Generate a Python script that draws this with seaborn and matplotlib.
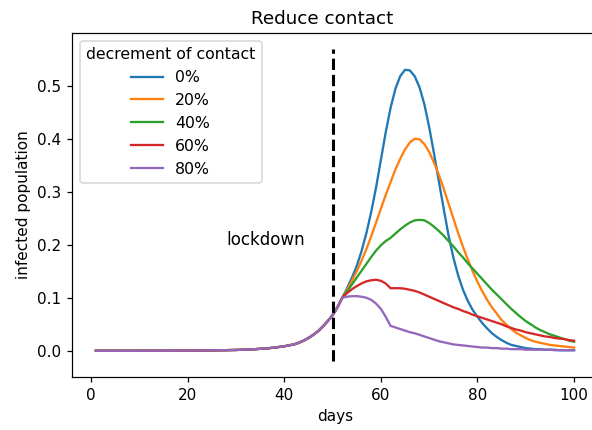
import numpy as np
import pandas as pd
import matplotlib
matplotlib.use("Agg")
import matplotlib.pyplot as plt
import seaborn as sns

# ---- data ----
early_days = [1, 5, 10, 15, 20, 25, 30, 33, 36, 38, 40, 42, 43, 44, 45, 46, 47, 48, 49, 50, 51]
early_vals = [0.00003, 0.00005, 0.0001, 0.00015, 0.0003, 0.0007, 0.0015, 0.0025, 0.0042, 0.006,
              0.0085, 0.012, 0.015, 0.019, 0.024, 0.030, 0.037, 0.046, 0.056, 0.067, 0.082]
late_days = list(range(52, 101))

blue_late = [0.100, 0.118, 0.138, 0.160, 0.188, 0.222, 0.262, 0.308, 0.360, 0.412,
             0.458, 0.494, 0.518, 0.530, 0.529, 0.518, 0.497, 0.465, 0.422, 0.372,
             0.320, 0.268, 0.218, 0.176, 0.142, 0.115, 0.094, 0.077, 0.064, 0.052,
             0.042, 0.033, 0.026, 0.020, 0.015, 0.011, 0.009, 0.007, 0.005, 0.004,
             0.003, 0.003, 0.002, 0.002, 0.002, 0.001, 0.001, 0.001, 0.001]
orange_late = [0.100, 0.115, 0.132, 0.150, 0.170, 0.192, 0.216, 0.242, 0.268, 0.294,
               0.318, 0.342, 0.362, 0.380, 0.393, 0.400, 0.399, 0.390, 0.375, 0.355,
               0.332, 0.306, 0.278, 0.250, 0.222, 0.196, 0.172, 0.150, 0.130, 0.112,
               0.096, 0.082, 0.070, 0.058, 0.049, 0.041, 0.034, 0.029, 0.024, 0.020,
               0.017, 0.015, 0.013, 0.011, 0.010, 0.009, 0.008, 0.007, 0.006]
green_late = [0.100, 0.112, 0.125, 0.138, 0.151, 0.164, 0.177, 0.189, 0.199, 0.207,
              0.213, 0.221, 0.229, 0.236, 0.242, 0.246, 0.247, 0.246, 0.241, 0.234,
              0.226, 0.217, 0.207, 0.197, 0.186, 0.176, 0.165, 0.155, 0.145, 0.135,
              0.125, 0.115, 0.106, 0.097, 0.088, 0.079, 0.071, 0.063, 0.056, 0.050,
              0.044, 0.039, 0.035, 0.031, 0.028, 0.025, 0.022, 0.019, 0.017]
red_late = [0.100, 0.109, 0.116, 0.122, 0.127, 0.131, 0.133, 0.134, 0.132, 0.127,
            0.118, 0.118, 0.118, 0.117, 0.115, 0.113, 0.110, 0.106, 0.102, 0.098,
            0.094, 0.090, 0.086, 0.082, 0.079, 0.075, 0.072, 0.068, 0.065, 0.062,
            0.059, 0.056, 0.053, 0.050, 0.046, 0.043, 0.040, 0.038, 0.035, 0.033,
            0.031, 0.029, 0.027, 0.026, 0.024, 0.023, 0.022, 0.020, 0.019]
purple_late = [0.100, 0.102, 0.103, 0.103, 0.102, 0.100, 0.096, 0.089, 0.079, 0.064,
               0.047, 0.044, 0.041, 0.038, 0.035, 0.033, 0.030, 0.027, 0.024, 0.021,
               0.018, 0.016, 0.014, 0.012, 0.011, 0.010, 0.009, 0.008, 0.007, 0.006,
               0.006, 0.005, 0.005, 0.004, 0.004, 0.003, 0.003, 0.003, 0.002, 0.002,
               0.002, 0.002, 0.002, 0.002, 0.001, 0.001, 0.001, 0.001, 0.001]

levels = ["0%", "20%", "40%", "60%", "80%"]
colors = ["#1f77b4", "#ff7f0e", "#2ca02c", "#d62728", "#9467bd"]
lockdown_day = 50

days = early_days + late_days
series = {
    "0%": early_vals + blue_late,
    "20%": early_vals + orange_late,
    "40%": early_vals + green_late,
    "60%": early_vals + red_late,
    "80%": early_vals + purple_late,
}

rows = []
for lvl in levels:
    for d, v in zip(days, series[lvl]):
        rows.append({"days": d, "infected population": v, "decrement of contact": lvl})
df = pd.DataFrame(rows)

dpi = 110
fig = plt.figure(figsize=(592 / dpi, 430 / dpi), dpi=dpi)
ax = fig.add_axes([72 / 592, 1 - 377 / 430, (598 - 72) / 592, (377 - 33) / 430])

sns.lineplot(data=df, x="days", y="infected population", hue="decrement of contact",
             hue_order=levels, palette=colors, linewidth=1.5, errorbar=None, ax=ax)

ax.vlines(lockdown_day, -0.02, 0.57, colors="k", linestyles="--", linewidth=2)
ax.text(28, 0.2, "lockdown", fontsize=11)

ax.set_title("Reduce contact", fontsize=12, x=0.475)
ax.set_xlabel("days")
ax.set_ylabel("infected population")
ax.set_xticks([0, 20, 40, 60, 80, 100])
ax.set_yticks([0.0, 0.1, 0.2, 0.3, 0.4, 0.5])
sns.move_legend(ax, "upper left", title="decrement of contact",
                fontsize=10.3, title_fontsize=10.3)

fig.savefig("out.png", dpi=dpi)
